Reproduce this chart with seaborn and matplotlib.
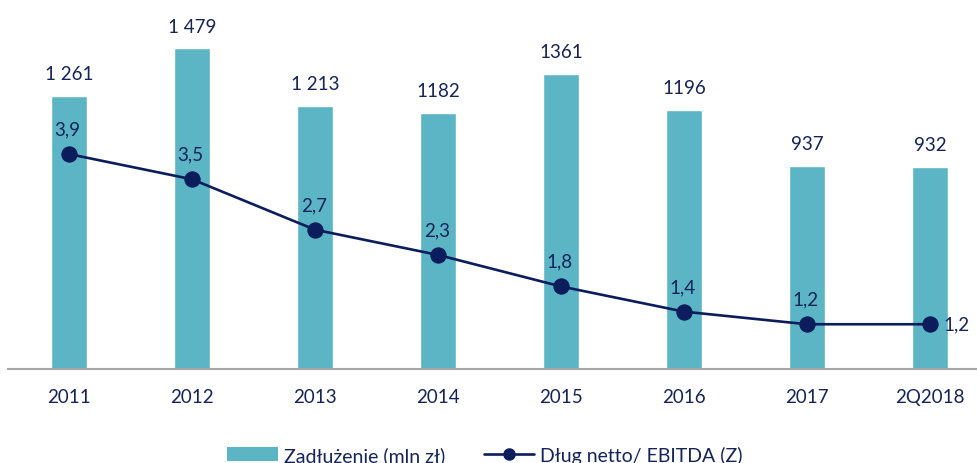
import matplotlib
matplotlib.use('Agg')
import matplotlib.pyplot as plt
import seaborn as sns
from matplotlib.patches import Patch
from matplotlib.lines import Line2D

sns.set_theme(style='white')
plt.rcParams['font.family'] = ['Lato', 'DejaVu Sans']

years = ['2011', '2012', '2013', '2014', '2015', '2016', '2017', '2Q2018']
debt = [1261, 1479, 1213, 1182, 1361, 1196, 937, 932]
debt_labels = ['1 261', '1 479', '1 213', '1182', '1361', '1196', '937', '932']
ratio = [3.9, 3.5, 2.7, 2.3, 1.8, 1.4, 1.2, 1.2]
ratio_labels = ['3,9', '3,5', '2,7', '2,3', '1,8', '1,4', '1,2', '1,2']

bar_color = '#5BB5C5'
navy = '#0B1D5C'
text_color = '#14245A'

W, H = 977, 464
fig = plt.figure(figsize=(W / 100, H / 100), dpi=100)
ax = fig.add_axes([7.5 / W, (H - 370) / H, 984 / W, 370 / H])

sns.barplot(x=years, y=debt, color=bar_color, width=0.29, ax=ax, saturation=1)
ax.set_xlim(-0.5, 7.5)
ax.set_ylim(0, 1707)
ax.set_yticks([])
ax.set_ylabel('')
for s in ['top', 'right', 'left']:
    ax.spines[s].set_visible(False)
ax.spines['bottom'].set_color('#A6A6A6')
ax.spines['bottom'].set_linewidth(1.5)
ax.tick_params(axis='x', length=0, pad=14, labelsize=13.5, labelcolor=text_color)

for i, (v, lab) in enumerate(zip(debt, debt_labels)):
    ax.annotate(lab, (i, v), xytext=(0, 10), textcoords='offset points',
                ha='center', va='bottom', fontsize=13.5, color=text_color)

ax2 = ax.twinx()
sns.lineplot(x=list(range(len(years))), y=ratio, ax=ax2, color=navy, linewidth=1.9,
             marker='o', markersize=11, markeredgecolor=navy, markerfacecolor=navy)
ax2.set_ylim(0.49, 6.36)
ax2.set_xlim(-0.5, 7.5)
ax2.set_yticks([])
for s in ['top', 'right', 'left', 'bottom']:
    ax2.spines[s].set_visible(False)

for i, (v, lab) in enumerate(zip(ratio, ratio_labels)):
    if i == len(ratio) - 1:
        ax2.annotate(lab, (i, v), xytext=(10, 0), textcoords='offset points',
                     ha='left', va='center', fontsize=13.5, color=text_color)
    else:
        ax2.annotate(lab, (i, v), xytext=(-1, 12), textcoords='offset points',
                     ha='center', va='bottom', fontsize=13.5, color=text_color)

handles = [Patch(facecolor=bar_color, edgecolor='none'),
           Line2D([0], [0], color=navy, linewidth=1.9, marker='o', markersize=8,
                  markerfacecolor=navy, markeredgecolor=navy)]
fig.legend(handles, ['Zadłużenie (mln zł)', 'Dług netto/ EBITDA (Z)'],
           loc='center', bbox_to_anchor=(485 / W, 1 - 456 / H), ncol=2, frameon=False,
           fontsize=14, handlelength=2.6, handleheight=0.7, handletextpad=0.3,
           columnspacing=2.0, labelcolor=text_color)

fig.savefig('out.png', dpi=100)
